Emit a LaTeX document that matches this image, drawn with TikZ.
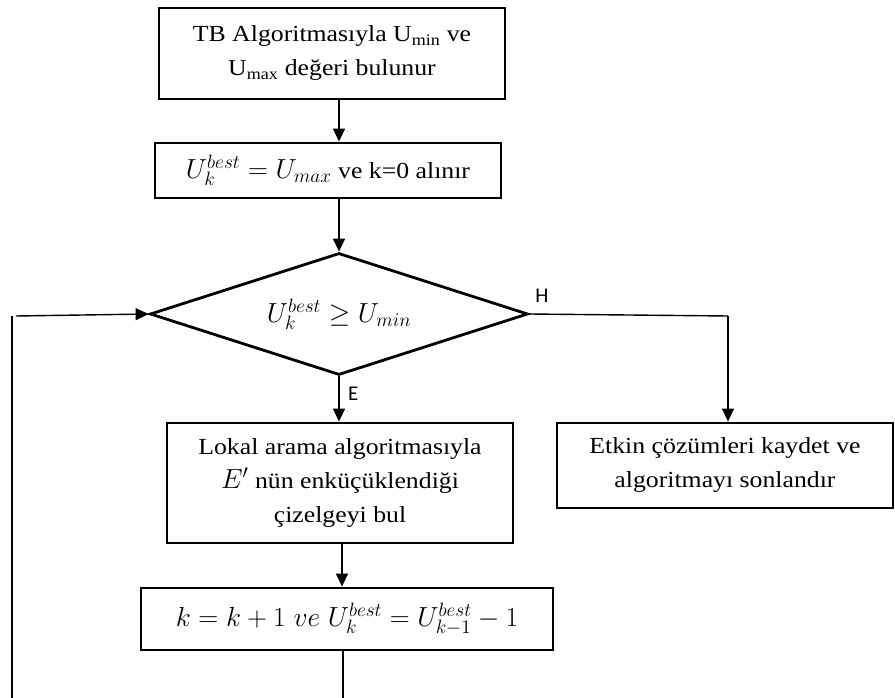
\RequirePackage{fix-cm}
\documentclass[tikz,border=0pt]{standalone}
\usepackage{fontspec}
\setmainfont{Liberation Serif}[FakeStretch=1.12]
\newfontfamily\lblfont{Carlito}
\usetikzlibrary{shapes.geometric,arrows.meta}
\newcommand{\boxfont}{\fontsize{23}{34}\selectfont}
\newcommand{\mth}[1]{\scalebox{1.2}{$#1$}}
\tikzset{
  procbox/.style={draw, line width=2.8pt, inner sep=2pt, align=center, font=\boxfont},
  decbox/.style={draw, diamond, aspect=3.1, line width=2.8pt, inner sep=0pt, font=\boxfont},
  conn/.style={line width=1.4pt},
  arr/.style={conn, -{Triangle[length=13pt,width=12pt]}},
  lbl/.style={font=\lblfont\fontsize{21}{23}\selectfont, inner sep=0pt}
}
\begin{document}
\begin{tikzpicture}[x=1pt,y=-1pt]
\useasboundingbox (0,0) rectangle (895,698);
\node[procbox, minimum width=346pt, minimum height=91pt] (top) at (332,53.5)
  {TB Algoritmasıyla U\textsubscript{min} ve\\U\textsubscript{max} değeri bulunur};
\node[procbox, minimum width=346pt, minimum height=55pt] (init) at (328,170.5)
  {\mth{U_k^{best} = U_{max}} ve k=0 alınır};
\node[decbox, minimum width=378pt, minimum height=122pt] (dec) at (339,314)
  {\mth{U_k^{best} \ge U_{min}}};
\node[procbox, minimum width=346pt, minimum height=120pt] (lok) at (340,483)
  {Lokal arama algoritmasıyla\\\mth{E'} nün enküçüklendiği\\çizelgeyi bul};
\node[procbox, minimum width=336pt, minimum height=85pt] (etk) at (725,465.5)
  {Etkin çözümleri kaydet ve\\algoritmayı sonlandır};
\node[procbox, minimum width=412pt, minimum height=62pt] (upd) at (347,619)
  {\mth{k = k + 1\ ve\ U_k^{best} = U_{k-1}^{best} - 1}};
\node[lbl] (h) at (542,296) {H};
\node[lbl, anchor=west] (e) at (348,394) {E};
\coordinate (hc) at (728,316);
\coordinate (bot) at (343,698);
\coordinate (lb) at (12,698);
\coordinate (lt) at (12,316);
\coordinate (ls) at (16,316);
\draw[arr] (top.south -| dec.north) -- (init.north -| dec.north);
\draw[arr] (init.south -| dec.north) -- (dec.north);
\draw[arr] (dec.south) -- (lok.north -| dec.south);
\draw[conn] (dec.east) -- (hc);
\draw[arr] (hc) -- (etk.north -| hc);
\draw[arr] (lok.south -| 342,0) -- (upd.north -| 342,0);
\draw[conn] (upd.south -| bot) -- (bot);
\draw[conn] (lb) -- (lt);
\draw[arr] (ls) -- (dec.west);
\end{tikzpicture}
\end{document}
